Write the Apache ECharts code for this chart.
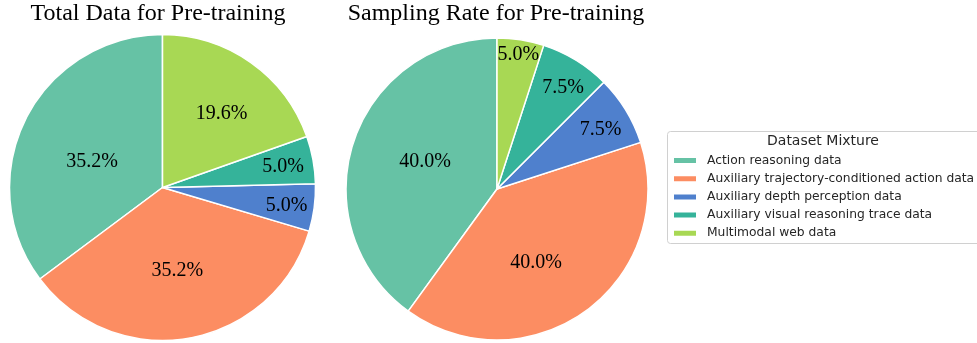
<!DOCTYPE html>
<html><head><meta charset="utf-8">
<script src="https://cdn.jsdelivr.net/npm/echarts@6/dist/echarts.min.js"></script>
<style>html,body{margin:0;padding:0;background:#fff}#c{width:977px;height:343px}</style>
</head><body><div id="c"></div>
<script>
const categories = ['Action reasoning data','Auxiliary trajectory-conditioned action data','Auxiliary depth perception data','Auxiliary visual reasoning trace data','Multimodal web data'];
const totalData = [35.2, 35.2, 5.0, 5.0, 19.6];
const samplingRate = [40.0, 40.0, 7.5, 7.5, 5.0];
const titles = ['Total Data for Pre-training','Sampling Rate for Pre-training'];
const legendTitle = 'Dataset Mixture';

const colors = ['#66c2a5','#fc8d62','#4f80cd','#35b39a','#a8d854'];
// label placement styling (radial fraction, angle shift in deg)
const labelDist = [[0.49,0.55,0.82,0.80,0.62],[0.51,0.55,0.79,0.80,0.90]];
const labelShift = [[6.6,0,-0.9,-0.6,-3.3],[-2.8,-8,-1.8,-1.7,0]];
const centers = [[162.5,187.5],[497,189]];
const radii = [153,151];
const seriesData = [totalData, samplingRate];

function midAngles(vals){
  const tot = vals.reduce((a,b)=>a+b,0);
  let a = 90; const out=[];
  vals.forEach(v=>{const s=v/tot*360; out.push(a+s/2); a+=s;});
  return out;
}

const chart = echarts.init(document.getElementById('c'), null, {renderer:'canvas'});
const series = seriesData.map((vals,si)=>{
  const mids = midAngles(vals);
  return {
    type:'pie', center:centers[si], radius:[0,radii[si]], startAngle:90, clockwise:false,
    avoidLabelOverlap:false, animation:false, silent:true,
    itemStyle:{borderColor:'#fff',borderWidth:1.5},
    label:{show:true, position:'inside', formatter:p=>p.value.toFixed(1)+'%', fontFamily:'Liberation Serif', fontSize:20, color:'#000'},
    labelLine:{show:false},
    labelLayout:function(p){
      const i=p.dataIndex;
      const th=(mids[i]+labelShift[si][i])*Math.PI/180;
      const r=labelDist[si][i]*radii[si];
      return {x:centers[si][0]+r*Math.cos(th), y:centers[si][1]-r*Math.sin(th), align:'center', verticalAlign:'middle'};
    },
    data: categories.map((c,i)=>({name:c, value:vals[i], itemStyle:{color:colors[i]}}))
  };
});

chart.setOption({
  animation:false,
  title: [
    {text:titles[0], left:158, top:2, padding:0, textAlign:'center', textStyle:{fontFamily:'Liberation Serif', fontSize:24, fontWeight:'normal', color:'#000'}},
    {text:titles[1], left:496, top:2, padding:0, textAlign:'center', textStyle:{fontFamily:'Liberation Serif', fontSize:24, fontWeight:'normal', color:'#000'}},
    {text:legendTitle, left:823, top:134, padding:0, textAlign:'center', textStyle:{fontFamily:'DejaVu Sans', fontSize:14, fontWeight:'normal', color:'#262626'}}
  ],
  graphic:[{type:'rect', left:667, top:131, shape:{width:320, height:112, r:3}, style:{fill:'rgba(255,255,255,0.8)', stroke:'#d0d0d0', lineWidth:1}, z:-1}],
  legend:{
    orient:'vertical', left:672, top:153.5, padding:0, itemWidth:24, itemHeight:7, itemGap:4.2,
    icon:'rect', selectedMode:false,
    textStyle:{fontFamily:'DejaVu Sans', fontSize:12.3, color:'#262626', lineHeight:14, padding:[0,0,0,5]},
    data:categories
  },
  series: series
});
</script></body></html>
